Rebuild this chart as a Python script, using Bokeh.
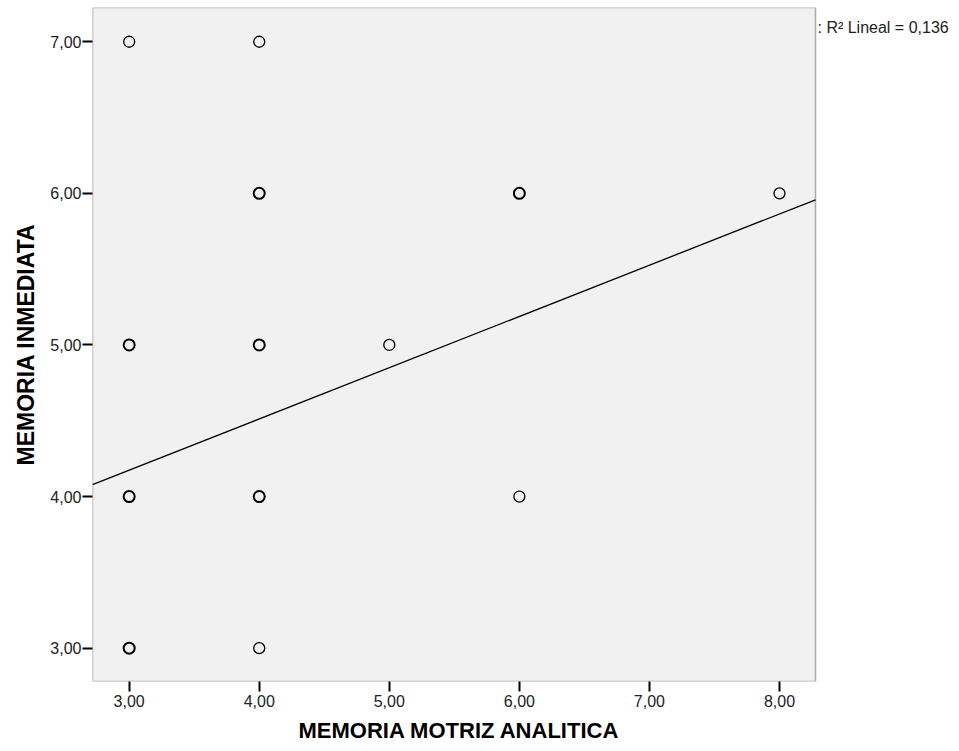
from bokeh.plotting import figure
from bokeh.models import FixedTicker, Label, Range1d, ColumnDataSource, BoxAnnotation, Title
from bokeh.embed import file_html
from bokeh.resources import INLINE

# Data
motriz = [3, 4, 4, 6, 8, 3, 4, 5, 3, 4, 6, 3, 4]
inmediata = [7, 7, 6, 6, 6, 5, 5, 5, 4, 4, 4, 3, 3]
counts = [1, 1, 2, 2, 1, 3, 2, 1, 3, 3, 1, 2, 1]

fit_intercept = 3.16
fit_slope = 0.338
r2_text = ": R\u00b2  Lineal = 0,136"

x_ticks = [3, 4, 5, 6, 7, 8]
y_ticks = [3, 4, 5, 6, 7]
x_tick_labels = ["3,00", "4,00", "5,00", "6,00", "7,00", "8,00"]
y_tick_labels = ["3,00", "4,00", "5,00", "6,00", "7,00"]
x_title = "MEMORIA MOTRIZ ANALITICA"
y_title = "MEMORIA INMEDIATA"

x_lo, x_hi = 2.718, 8.277
y_lo, y_hi = 2.78, 7.226

FONT = "Liberation Sans"

W, H = 959, 751
LEFT, TOP, BOTTOM = 92, 7, 70
PLOT_W = 815 - LEFT
px_per_x = PLOT_W / (x_hi - x_lo)
x_end = x_lo + (W - LEFT) / px_per_x   # frame reaches the right edge, the plot box is drawn below

p = figure(width=W, height=H, output_backend="svg", toolbar_location=None,
           x_range=Range1d(x_lo, x_end), y_range=Range1d(y_lo, y_hi),
           min_border_left=LEFT, min_border_right=0, min_border_top=TOP,
           min_border_bottom=BOTTOM)
p.background_fill_color = "white"
p.border_fill_color = "white"
p.outline_line_color = None
p.xgrid.visible = False
p.ygrid.visible = False

box = BoxAnnotation(left=x_lo, right=x_hi, bottom=y_lo, top=y_hi,
                    fill_color="#f0f1f0", fill_alpha=1.0,
                    line_color="black", line_width=1.6, level="underlay")
p.add_layout(box)

for ax, ticks, labels in ((p.xaxis[0], x_ticks, x_tick_labels), (p.yaxis[0], y_ticks, y_tick_labels)):
    ax.ticker = FixedTicker(ticks=ticks)
    ax.major_label_overrides = {t: l for t, l in zip(ticks, labels)}
    ax.axis_line_color = None
    ax.major_tick_in = 0
    ax.major_tick_out = 10
    ax.major_tick_line_width = 2
    ax.major_tick_line_color = "black"
    ax.minor_tick_line_color = None
    ax.major_label_text_font = FONT
    ax.major_label_text_font_size = "16px"
    ax.major_label_text_color = "#222222"
    ax.axis_label_text_font = FONT
    ax.axis_label_text_font_style = "bold"
    ax.axis_label_text_font_size = "23px"
    ax.axis_label_text_color = "black"

p.yaxis.axis_label = y_title
p.xaxis.major_label_standoff = 3
p.yaxis.major_label_standoff = 1
p.yaxis.axis_label_standoff = 8

xt = Title(text=x_title, align="left", offset=206, standoff=12,
           text_font=FONT, text_font_style="bold", text_font_size="22px",
           text_color="black")
p.add_layout(xt, "below")

# regression line
lx = [x_lo, x_hi]
ly = [fit_intercept + fit_slope * v for v in lx]
p.line(lx, ly, line_color="black", line_width=1.3)

src = ColumnDataSource(dict(x=motriz, y=inmediata,
                            w=[1.3 if c == 1 else 2.0 for c in counts]))
p.scatter("x", "y", source=src, marker="circle", size=11, fill_color=None,
          line_color="black", line_width="w")

lab = Label(x=x_hi, y=y_hi - 20 / 151.6, x_offset=2, text=r2_text,
            text_font=FONT, text_font_size="16px", text_color="#222222",
            text_baseline="alphabetic")
p.add_layout(lab)

open("out.html", "w").write(file_html(p, INLINE))
